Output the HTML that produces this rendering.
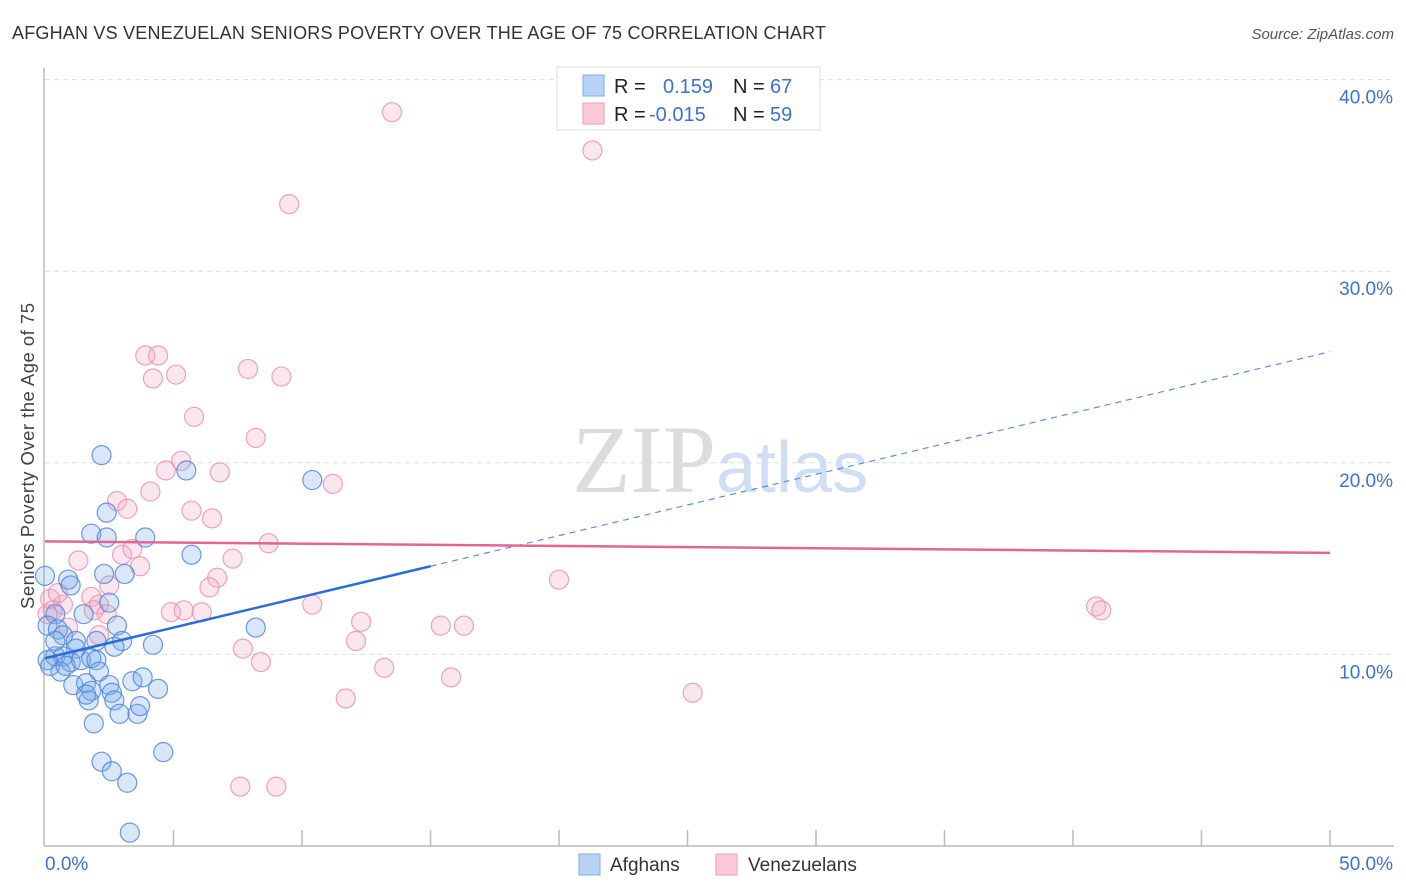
<!DOCTYPE html>
<html><head><meta charset="utf-8">
<style>
body{margin:0;background:#fff;font-family:"Liberation Sans",sans-serif;}
#wrap{position:relative;width:1406px;height:892px;overflow:hidden;}
</style></head><body>
<div id="wrap">
<svg id="svg" width="1406" height="892" xmlns="http://www.w3.org/2000/svg">
<text x="12" y="39" font-size="18" fill="#333" textLength="814">AFGHAN VS VENEZUELAN SENIORS POVERTY OVER THE AGE OF 75 CORRELATION CHART</text>
<text x="1394" y="39" font-size="15" fill="#555" font-style="italic" text-anchor="end">Source: ZipAtlas.com</text>
<text x="34" y="456" font-size="18.5" fill="#444" text-anchor="middle" textLength="306" transform="rotate(-90 34 456)">Seniors Poverty Over the Age of 75</text>
<g id="grid"></g>
<text x="716" y="492" font-size="96" fill="#dcdcdc" text-anchor="end" font-family="Liberation Serif">ZIP</text>
<text x="716" y="492" font-size="72" fill="#cfdef2">atlas</text>
<g id="marks"></g>
<g id="trends"></g>
<g>
<rect x="557" y="67" width="263" height="63" fill="#fff" stroke="#ddd"/>
<rect x="583" y="75" width="21" height="21" fill="#b9d3f6" stroke="#7eaaea"/>
<rect x="583" y="103" width="21" height="21" fill="#fbc9d8" stroke="#ee9fba"/>
<text x="614" y="93" font-size="20" fill="#222">R = </text><text x="663" y="93" font-size="20" fill="#3a72d4">0.159</text>
<text x="733" y="93" font-size="20" fill="#222">N = </text><text x="770" y="93" font-size="20" fill="#3a72d4">67</text>
<text x="614" y="121" font-size="20" fill="#222">R = </text><text x="649" y="121" font-size="20" fill="#3a72d4">-0.015</text>
<text x="733" y="121" font-size="20" fill="#222">N = </text><text x="770" y="121" font-size="20" fill="#3a72d4">59</text>
</g>
<g>
<rect x="579" y="854" width="21" height="21" fill="#b9d3f6" stroke="#7eaaea"/>
<text x="610" y="871" font-size="19" fill="#333">Afghans</text>
<rect x="716" y="854" width="21" height="21" fill="#fbc9d8" stroke="#ee9fba"/>
<text x="748" y="871" font-size="19" fill="#333">Venezuelans</text>
</g>
</svg>
</div>
<script>
const blueX=[2.2,5.5,10.4,2.4,1.8,3.9,2.4,5.7,0.0,0.9,1.0,2.3,3.1,2.5,1.5,0.4,0.1,2.8,0.5,0.7,1.2,2.0,3.0,4.2,8.2,1.2,2.7,0.4,0.7,0.1,1.0,1.4,1.8,2.0,0.6,2.1,1.1,1.6,1.8,2.5,2.6,3.4,3.8,4.4,1.7,2.7,2.9,3.6,3.7,1.9,4.6,2.2,2.6,3.2,3.3,0.4,0.2,1.6,0.8];
const blueY=[20.4,19.6,19.1,17.4,16.3,16.1,16.1,15.2,14.1,13.9,13.6,14.2,14.2,12.7,12.1,12.1,11.5,11.5,11.3,11.0,10.7,10.7,10.7,10.5,11.4,10.3,10.4,9.9,9.9,9.7,9.6,9.7,9.8,9.7,9.1,9.1,8.4,8.5,8.1,8.4,8.0,8.6,8.8,8.2,7.6,7.6,6.9,6.9,7.3,6.4,4.9,4.4,3.9,3.3,0.7,10.7,9.4,7.9,9.4];
const pinkX=[13.5,21.3,9.5,3.9,4.4,5.1,4.2,7.9,9.2,5.8,8.2,5.3,4.7,6.8,4.1,2.8,3.2,11.2,5.7,6.5,1.3,3.0,3.4,3.7,7.3,8.7,6.7,6.4,20.0,1.8,2.1,0.7,0.3,0.1,1.9,2.4,0.9,2.1,4.9,5.4,6.1,10.4,12.3,15.4,16.3,12.1,7.7,8.4,13.2,15.8,11.7,25.2,40.9,41.1,7.6,9.0,0.2,0.5,2.5];
const pinkY=[38.3,36.3,33.5,25.6,25.6,24.6,24.4,24.9,24.5,22.4,21.3,20.1,19.6,19.5,18.5,18.0,17.6,18.9,17.5,17.1,14.9,15.2,15.5,14.6,15.0,15.8,14.0,13.5,13.9,13.0,12.6,12.6,12.3,12.1,12.3,12.1,11.4,11.0,12.2,12.3,12.2,12.6,11.7,11.5,11.5,10.7,10.3,9.6,9.3,8.8,7.7,8.0,12.5,12.3,3.1,3.1,12.9,13.2,13.6];
const yTicks=[10,20,30,40];
const yTickLabels=["10.0%","20.0%","30.0%","40.0%"];
const xEnds=[0,50];
const xEndLabels=["0.0%","50.0%"];
const blueTrend=[9.8,25.8];
const blueSolidEnd=15;
const pinkTrend=[15.9,15.3];

const NS="http://www.w3.org/2000/svg";
const X=v=>45+v*25.7;
const Y=v=>846-v*19.16;
function mk(tag,attrs,parent){const e=document.createElementNS(NS,tag);for(const k in attrs)e.setAttribute(k,attrs[k]);parent.appendChild(e);return e;}
const grid=document.getElementById('grid'),marks=document.getElementById('marks'),trends=document.getElementById('trends');

let ax=mk('line',{x1:44,y1:68,x2:44,y2:846,stroke:'#bbb','stroke-width':1.5},grid);


let bx=mk('line',{x1:44,y1:846,x2:1394,y2:846,stroke:'#bbb','stroke-width':1.5},grid);


for(let i=1;i<=10;i++){
  let t=mk('line',{x1:X(i*5),y1:830,x2:X(i*5),y2:846,stroke:'#bbb','stroke-width':1.5},grid);
  
  
}
yTicks.forEach((v,i)=>{
  let g=mk('line',{x1:45,y1:Y(v),x2:1394,y2:Y(v),stroke:'#ddd','stroke-dasharray':'5,4'},grid);
  
  
  let t=mk('text',{x:1393,y:Y(v)+24,'font-size':19,fill:'#3a72d4','text-anchor':'end'},grid);
  t.textContent=yTickLabels[i];
  
  
});
xEnds.forEach((v,i)=>{
  let t=mk('text',{x:i==0?45:1393,y:870,'font-size':19,fill:'#3a72d4','text-anchor':i==0?'start':'end'},grid);
  t.textContent=xEndLabels[i];
  
  
});

pinkX.forEach((x,i)=>{
  let c=mk('circle',{cx:X(x),cy:Y(pinkY[i]),r:9.5,fill:'rgba(244,165,195,0.28)',stroke:'rgba(232,140,172,0.8)','stroke-width':1.2},marks);
  
  
});
blueX.forEach((x,i)=>{
  let c=mk('circle',{cx:X(x),cy:Y(blueY[i]),r:9.5,fill:'rgba(120,168,232,0.28)',stroke:'rgba(80,135,220,0.85)','stroke-width':1.2},marks);
  
  
});

const by=x=>blueTrend[0]+(blueTrend[1]-blueTrend[0])*x/50;
let l1=mk('line',{x1:X(0),y1:Y(by(0)),x2:X(blueSolidEnd),y2:Y(by(blueSolidEnd)),stroke:'#2a6dd6','stroke-width':2.5},trends);


let l2=mk('line',{x1:X(blueSolidEnd),y1:Y(by(blueSolidEnd)),x2:X(50),y2:Y(by(50)),stroke:'#5a8ee0','stroke-width':1.2,'stroke-dasharray':'6,5'},trends);


let l3=mk('line',{x1:X(0),y1:Y(pinkTrend[0]),x2:X(50),y2:Y(pinkTrend[1]),stroke:'#e2668f','stroke-width':2.5},trends);


</script>
</body></html>
